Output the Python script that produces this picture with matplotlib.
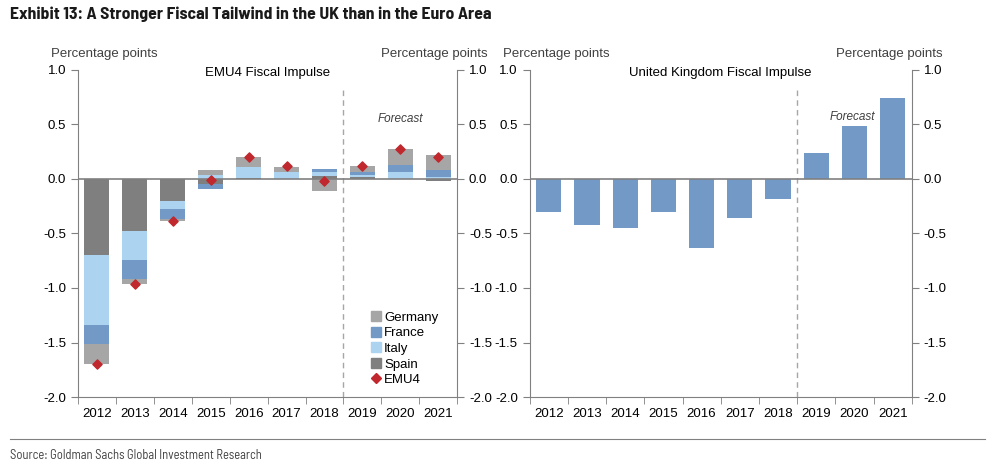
import matplotlib
matplotlib.use("Agg")
import matplotlib.pyplot as plt
from matplotlib.lines import Line2D
import numpy as np

plt.rcParams['font.family'] = ['Liberation Sans', 'DejaVu Sans']

years = ['2012', '2013', '2014', '2015', '2016', '2017', '2018', '2019', '2020', '2021']
spain = [-0.70, -0.48, -0.20, -0.045, 0.012, 0.0, 0.025, 0.015, 0.0, -0.02]
italy = [-0.64, -0.26, -0.08, 0.04, 0.095, 0.064, 0.035, 0.025, 0.06, 0.02]
france = [-0.17, -0.18, -0.09, -0.05, 0.0, 0.0, 0.03, 0.024, 0.067, 0.066]
germany = [-0.19, -0.04, -0.02, 0.04, 0.09, 0.05, -0.11, 0.055, 0.15, 0.135]
emu4 = [-1.70, -0.96, -0.39, -0.01, 0.20, 0.115, -0.015, 0.12, 0.275, 0.205]
uk = [-0.30, -0.425, -0.45, -0.30, -0.635, -0.36, -0.18, 0.24, 0.49, 0.74]

c_ger = '#a6a6a6'
c_fra = '#7399c6'
c_ita = '#acd3f0'
c_spa = '#7f7f7f'
c_emu = '#c0282d'
axis_col = '#808080'
narrow = ['Barlow Semi Condensed', 'Liberation Sans', 'DejaVu Sans']

fig = plt.figure(figsize=(9.9, 4.66), dpi=100)
ax1 = fig.add_axes([0.0788, 0.148, 0.383, 0.702])
ax2 = fig.add_axes([0.535, 0.148, 0.386, 0.702])

x = np.arange(len(years))
w = 0.66

# stacked bars, positives and negatives stacked separately
pos = np.zeros(len(years))
neg = np.zeros(len(years))
for vals, col in [(spain, c_spa), (italy, c_ita), (france, c_fra), (germany, c_ger)]:
    v = np.array(vals)
    bottom = np.where(v >= 0, pos, neg)
    ax1.bar(x, v, w, bottom=bottom, color=col, edgecolor='none', zorder=2)
    pos = pos + np.where(v >= 0, v, 0)
    neg = neg + np.where(v < 0, v, 0)
ax1.scatter(x, emu4, marker='D', s=22, color=c_emu, zorder=4)

ax2.bar(x, uk, w, color=c_fra, edgecolor='none', zorder=2)

for ax, title in [(ax1, 'EMU4 Fiscal Impulse'), (ax2, 'United Kingdom Fiscal Impulse')]:
    ax.set_xlim(-0.5, len(years) - 0.5)
    ax.set_ylim(-2.0, 1.0)
    ax.set_yticks([1.0, 0.5, 0.0, -0.5, -1.0, -1.5, -2.0])
    ax.set_yticklabels(['1.0', '0.5', '0.0', '-0.5', '-1.0', '-1.5', '-2.0'])
    ax.set_xticks(x)
    ax.set_xticklabels(years)
    ax.set_xticks(np.arange(-0.5, len(years), 1.0), minor=True)
    ax.tick_params(axis='x', which='major', length=0, labelsize=9.5, pad=8)
    ax.tick_params(axis='x', which='minor', length=5, color=axis_col, direction='out')
    ax.tick_params(axis='y', left=True, right=True, labelleft=True, labelright=True,
                   direction='out', length=5, color=axis_col, labelsize=9.5)
    for s in ['left', 'right', 'bottom']:
        ax.spines[s].set_color(axis_col)
    ax.spines['top'].set_visible(False)
    ax.axhline(0, color=axis_col, lw=1.2, zorder=3)
    ax.vlines(6.5, -2.0, 0.84, colors='#a6a6a6', linestyles=(0, (4, 3)), lw=1)
    ax.text(0.5, 0.99, title, transform=ax.transAxes, ha='center', va='center', fontsize=9.5)
    ax.text(-0.07, 1.03, 'Percentage points', transform=ax.transAxes, ha='left',
            va='bottom', fontsize=9.5, color='#404040')
    ax.text(1.08, 1.03, 'Percentage points', transform=ax.transAxes, ha='right',
            va='bottom', fontsize=9.5, color='#404040')

ax1.text(8.0, 0.55, 'Forecast', ha='center', va='center', fontsize=8.5,
         style='italic', color='#404040')
ax2.text(7.95, 0.57, 'Forecast', ha='center', va='center', fontsize=8.5,
         style='italic', color='#404040')

handles = [Line2D([], [], marker='s', ls='none', color=c_ger, markersize=7),
           Line2D([], [], marker='s', ls='none', color=c_fra, markersize=7),
           Line2D([], [], marker='s', ls='none', color=c_ita, markersize=7),
           Line2D([], [], marker='s', ls='none', color=c_spa, markersize=7),
           Line2D([], [], marker='D', ls='none', color=c_emu, markersize=5)]
ax1.legend(handles, ['Germany', 'France', 'Italy', 'Spain', 'EMU4'], loc='upper left',
           bbox_to_anchor=(0.755, 0.277), frameon=False, fontsize=9.5,
           handletextpad=0.1, handlelength=1.0, labelspacing=0.25, borderaxespad=0)

fig.text(0.01, 0.985, 'Exhibit 13: A Stronger Fiscal Tailwind in the UK than in the Euro Area',
         ha='left', va='top', fontsize=12.7, fontweight='bold',
         family=narrow, color='#1a1a1a')
fig.add_artist(Line2D([0.01, 0.995], [0.057, 0.057], color=axis_col, lw=0.8))
fig.text(0.01, 0.022, 'Source: Goldman Sachs Global Investment Research', ha='left',
         va='center', fontsize=9, family=narrow, color='#404040')

fig.savefig('out.png', dpi=100)
